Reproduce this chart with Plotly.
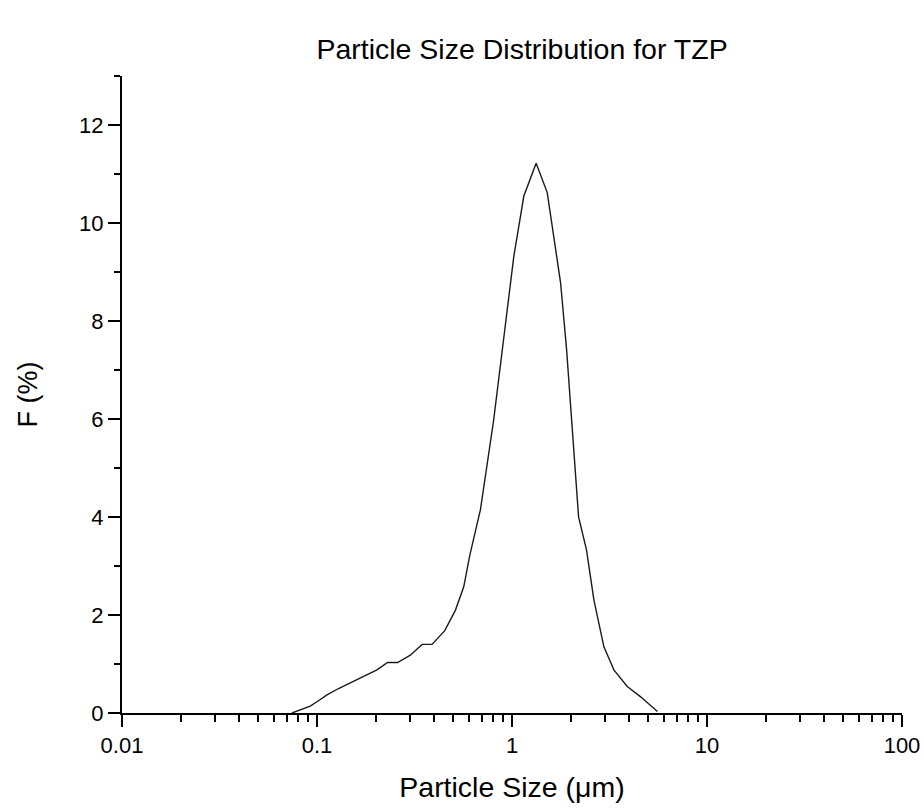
import plotly.graph_objects as go

size_um = [0.0744, 0.0923, 0.1, 0.1125, 0.129, 0.148, 0.170, 0.203, 0.230, 0.259,
           0.301, 0.346, 0.389, 0.452, 0.513, 0.566, 0.607, 0.689, 0.806, 0.908,
           1.02, 1.15, 1.33, 1.516, 1.775, 1.905, 2.0, 2.195, 2.41, 2.63,
           2.96, 3.33, 3.90, 4.57, 5.57]
freq_pct = [0.0, 0.14, 0.23, 0.37, 0.50, 0.62, 0.74, 0.88, 1.03, 1.03,
            1.18, 1.40, 1.40, 1.68, 2.10, 2.58, 3.21, 4.15, 5.99, 7.70,
            9.30, 10.55, 11.22, 10.62, 8.78, 7.42, 6.19, 4.0, 3.33, 2.31,
            1.35, 0.88, 0.54, 0.33, 0.03]

x_tickvals = [0.01, 0.1, 1, 10, 100]
x_ticktext = ["0.01", "0.1", "1", "10", "100"]
x_minor_vals = [m * d for d in [0.01, 0.1, 1, 10] for m in range(2, 10)]

FONT = "Arial, Liberation Sans, sans-serif"

fig = go.Figure()
fig.add_trace(go.Scatter(x=size_um, y=freq_pct, mode="lines",
                         line=dict(color="#1a1a1a", width=1.4), showlegend=False))

fig.update_layout(
    width=924, height=810,
    margin=dict(l=122, r=22, t=76, b=97, autoexpand=False),
    paper_bgcolor="white", plot_bgcolor="white",
    font=dict(family=FONT, color="black", size=22),
    title=dict(text="Particle Size Distribution for TZP", x=0.565, xanchor="center",
               xref="container", y=0.94, yanchor="middle", font=dict(size=28.5, family=FONT)),
)
fig.update_xaxes(
    type="log", range=[-2, 2], automargin=False,
    tickvals=x_tickvals, ticktext=x_ticktext,
    showline=True, linecolor="black", linewidth=2,
    ticks="outside", ticklen=12, tickwidth=2, tickcolor="black",
    minor=dict(tickmode="array", tickvals=x_minor_vals, ticks="outside", ticklen=7,
               tickwidth=2, tickcolor="black", showgrid=False),
    showgrid=False, zeroline=False,
    tickfont=dict(size=22),
    title=dict(text="Particle Size (\u03bcm)", font=dict(size=28.5), standoff=20),
)
fig.update_yaxes(
    range=[0, 13], dtick=2, tick0=0, automargin=False,
    showline=True, linecolor="black", linewidth=2,
    ticks="outside", ticklen=12, tickwidth=2, tickcolor="black",
    minor=dict(dtick=1, ticks="outside", ticklen=6, tickwidth=2, tickcolor="black", showgrid=False),
    showgrid=False, zeroline=False,
    tickfont=dict(size=22),
    title=dict(text="F (%)", font=dict(size=27), standoff=34),
)

fig.write_html("out.html")
